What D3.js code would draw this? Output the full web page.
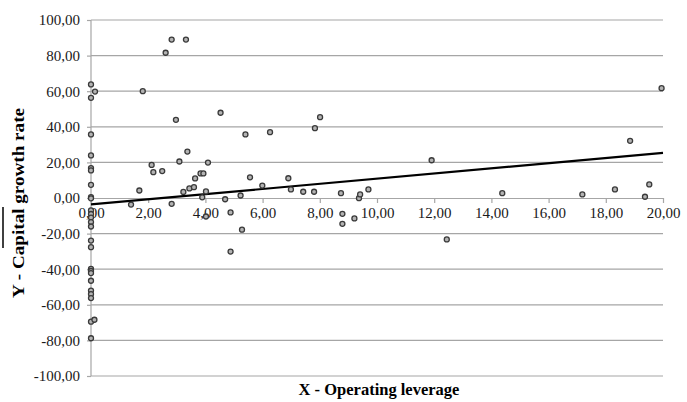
<!DOCTYPE html>
<html lang="en">
<head>
    <meta charset="UTF-8">
    <title>Operating leverage vs capital growth rate</title>
    <style>
        body { margin: 0; background: #fff; }
        svg text { font-family: "Liberation Serif", "Times New Roman", serif; }
        .grid-line { stroke: #a6a6a6; stroke-width: 1.2px; }
        .axis path, .axis line { stroke: #a6a6a6; stroke-width: 1.2px; }
        .title { font-weight: bold; font-size: 16.5px; fill: #000; }
        .dot { fill: #b3b3b3; stroke: #3a3a3a; stroke-width: 1.3px; }
        .trend { stroke: #000; stroke-width: 2.2px; fill: none; }
    </style>
</head>
<body>
    <div id="container"></div>
    <script src="https://d3js.org/d3.v7.min.js"></script>
    <script>

        // X - operating leverage (one value per firm)
        var leverage = [
            0, 0.14, 0, 0, 0, 0, 0, 0, 0, 0,
            0, 0, 0, 0, 0, 0, 0, 0, 0, 0,
            0, 0, 0, 0, 0, 0.12, 0,
            1.40, 1.69, 1.81, 2.12, 2.18, 2.49, 2.61, 2.82, 3.32, 2.97,
            3.09, 3.37, 2.82, 3.23, 3.44, 3.60, 3.64, 3.83, 3.93, 4.02,
            3.89, 4.09, 4.02, 4.53, 4.69, 4.88, 4.88, 5.23, 5.28, 5.40,
            5.56, 5.99, 6.26, 6.90, 6.99, 7.42, 7.80, 7.83, 8.01, 8.74,
            8.79, 8.79, 9.21, 9.37, 9.41, 9.70, 11.91, 12.44, 14.38, 17.18,
            18.32, 18.85, 19.37, 19.52, 19.95
        ];

        // Y - capital growth rate (same order as leverage)
        var growth = [
            63.8, 59.8, 56.3, 35.7, 23.9, 16.8, 15.5, 7.4, 0.5, -0.2,
            -7.0, -9.0, -11.0, -13.5, -16.0, -23.9, -27.6, -39.8, -41.0, -42.2,
            -46.5, -52.0, -54.0, -56.2, -69.5, -68.4, -78.8,
            -3.7, 4.2, 60.0, 18.6, 14.5, 15.1, 81.6, 89.0, 89.0, 43.9,
            20.5, 26.1, -3.3, 3.4, 5.4, 6.1, 11.0, 13.8, 13.8, 3.7,
            0.4, 19.9, -10.4, 47.9, -0.7, -8.1, -30.1, 1.4, -17.8, 35.7,
            11.6, 7.0, 37.0, 11.1, 4.8, 3.5, 3.5, 39.2, 45.4, 2.7,
            -8.9, -14.5, -11.5, -0.1, 2.0, 4.8, 21.2, -23.3, 2.7, 2.0,
            4.8, 32.1, 0.7, 7.6, 61.7
        ];

        // linear trend line end points [x, y]
        var trendLine = [[0, -3.6], [20, 25.3]];

        var xTicks = [0, 2, 4, 6, 8, 10, 12, 14, 16, 18, 20];
        var yTicks = [-100, -80, -60, -40, -20, 0, 20, 40, 60, 80, 100];

        // 12.5 -> "12,50", -20 -> "-20,00" (plain hyphen like the original)
        var fmt = function (d) { return d.toFixed(2).replace(".", ","); };

        var margin = { top: 20, right: 24, bottom: 26, left: 91 },
            width = 687 - margin.left - margin.right,
            height = 402 - margin.top - margin.bottom;

        var svg = d3.select("#container").append("svg")
            .attr("width", 687)
            .attr("height", 402);

        var g = svg.append("g")
            .attr("transform", "translate(" + margin.left + "," + margin.top + ")");

        var x = d3.scaleLinear().domain([0, 20]).range([0, width]);
        var y = d3.scaleLinear().domain([-100, 100]).range([height, 0]);

        // horizontal grid lines
        g.append("g").attr("class", "grid-lines")
            .selectAll("line")
            .data(yTicks.filter(function (d) { return d !== 0; }))
            .enter().append("line")
            .attr("class", "grid-line")
            .attr("x1", 0).attr("x2", width)
            .attr("y1", function (d) { return y(d); })
            .attr("y2", function (d) { return y(d); });

        // y axis (left)
        var yAxis = d3.axisLeft(y).tickValues(yTicks).tickSize(4).tickPadding(7).tickFormat(fmt);
        g.append("g").attr("class", "axis y-axis")
            .call(yAxis)
            .attr("font-family", "Liberation Serif, serif")
            .attr("font-size", 15)
            .selectAll("text").attr("fill", "#1a1a1a");

        // x axis through y = 0
        var xAxis = d3.axisBottom(x).tickValues(xTicks).tickSize(5).tickPadding(4).tickSizeOuter(0).tickFormat(fmt);
        g.append("g").attr("class", "axis x-axis")
            .attr("transform", "translate(0," + y(0) + ")")
            .call(xAxis)
            .attr("font-family", "Liberation Serif, serif")
            .attr("font-size", 15)
            .selectAll("text").attr("fill", "#1a1a1a");

        g.selectAll(".y-axis .domain").attr("d", "M0," + y(-100) + "V" + y(100));

        // trend line
        g.append("path")
            .attr("class", "trend")
            .attr("d", d3.line()
                .x(function (d) { return x(d[0]); })
                .y(function (d) { return y(d[1]); })(trendLine));

        // scatter points
        g.append("g").attr("class", "dots")
            .selectAll("circle")
            .data(d3.range(leverage.length))
            .enter().append("circle")
            .attr("class", "dot")
            .attr("r", 2.5)
            .attr("cx", function (i) { return x(leverage[i]); })
            .attr("cy", function (i) { return y(growth[i]); });

        // axis titles
        svg.append("text")
            .attr("class", "title")
            .attr("x", margin.left + width / 2 + 2)
            .attr("y", 395)
            .attr("text-anchor", "middle")
            .text("X - Operating leverage");

        var yTitle = svg.append("g")
            .attr("transform", "translate(24," + (margin.top + y(0) + 5) + ") rotate(-90)");

        yTitle.append("text")
            .attr("class", "title")
            .attr("text-anchor", "middle")
            .attr("textLength", 190)
            .attr("lengthAdjust", "spacingAndGlyphs")
            .text("Y - Capital growth rate");

        // bar over the title (mean sign)
        yTitle.append("line")
            .attr("x1", -45).attr("x2", -4)
            .attr("y1", -21).attr("y2", -21)
            .attr("stroke", "#000")
            .attr("stroke-width", 1.5);

    </script>
</body>
</html>
